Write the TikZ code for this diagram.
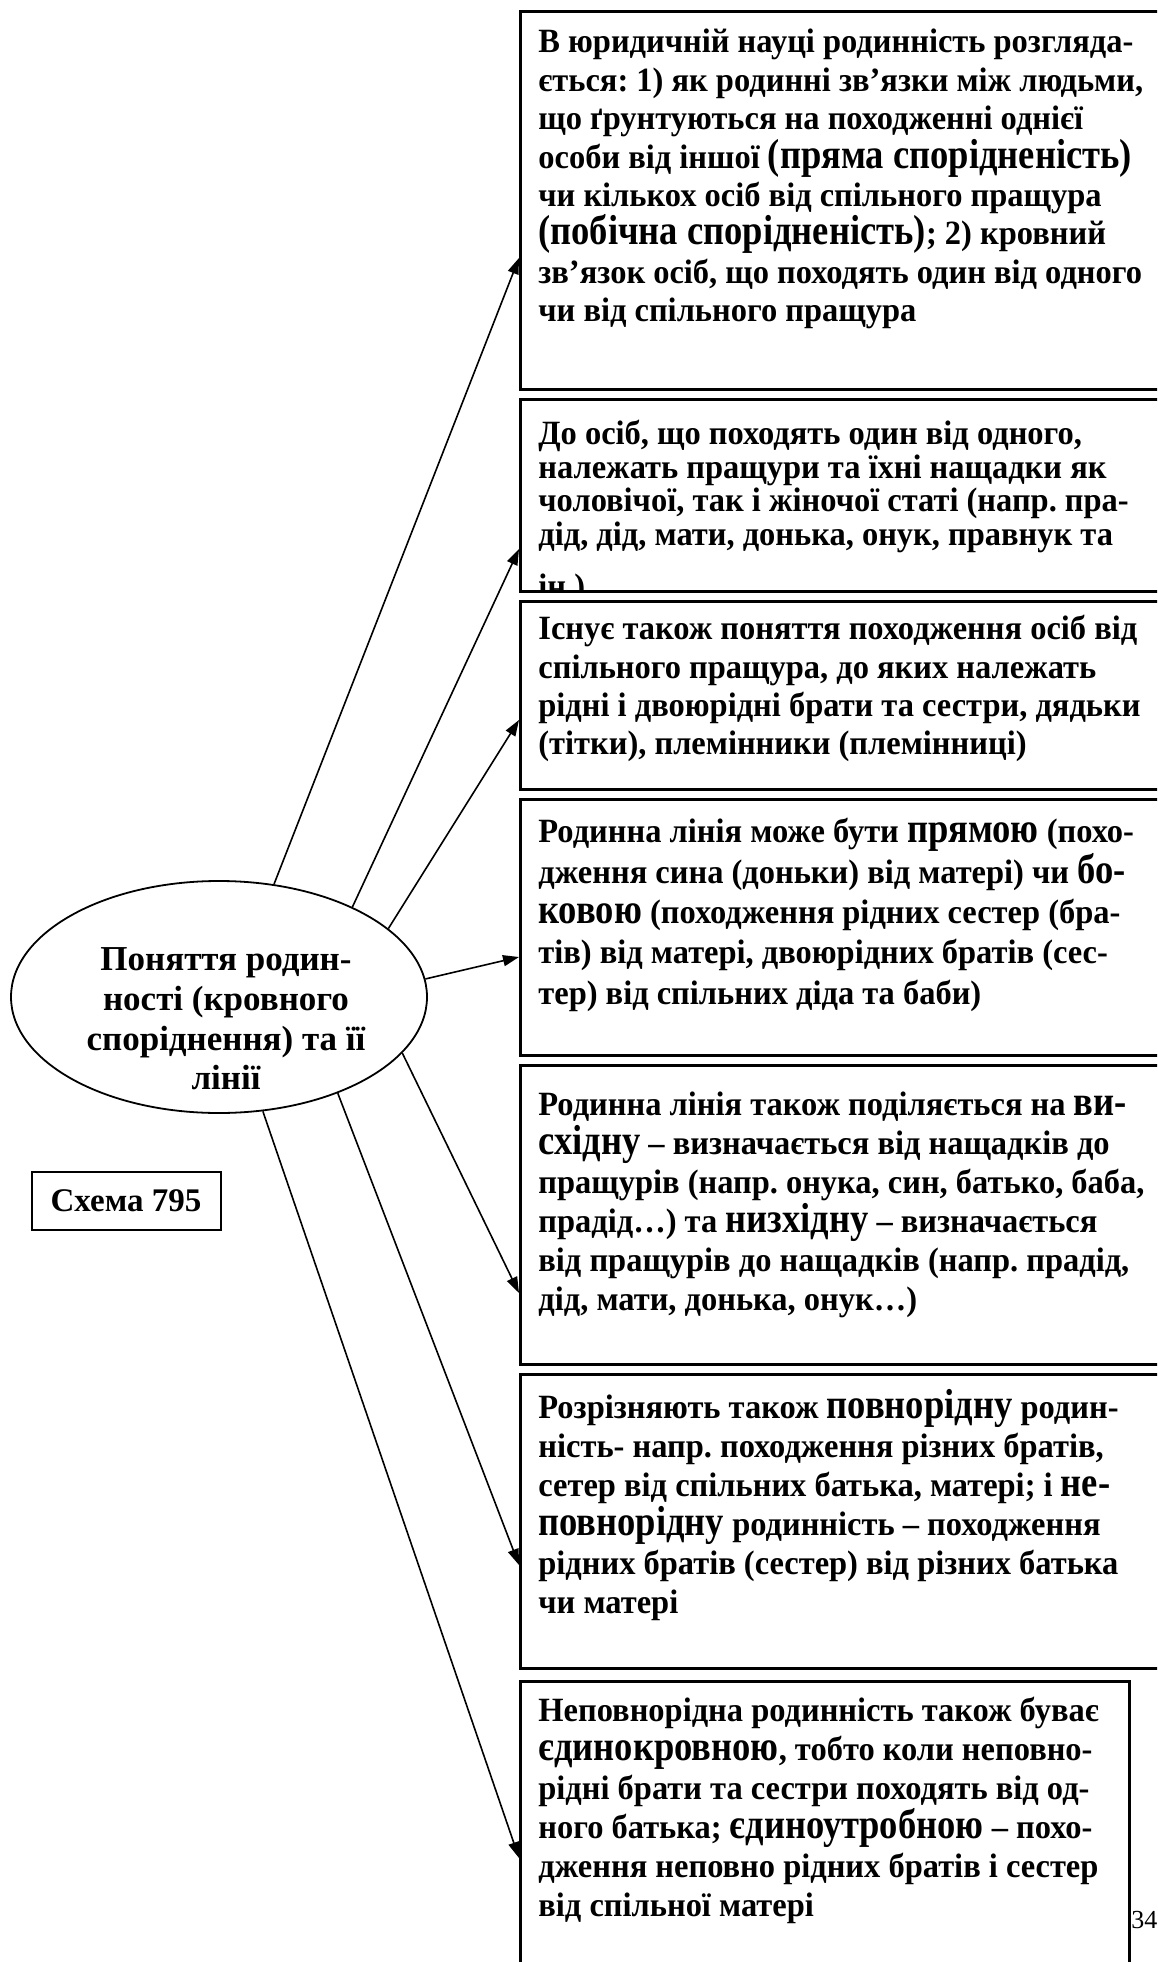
\documentclass[tikz,border=0pt]{standalone}
\usepackage{fontspec}
\setmainfont{Liberation Serif}[FakeStretch=0.955]
\newfontfamily\plainserif{Liberation Serif}
\newfontfamily\bigfont{Liberation Serif}[FakeStretch=0.87]
\frenchspacing
\usetikzlibrary{shapes.geometric,arrows.meta}

% larger words inside the box texts
\newcommand{\bigw}[1]{{\bigfont\fontsize{21}{19.5}\selectfont #1}}

\begin{document}
\begin{tikzpicture}[x=0.5pt, y=-0.5pt, >={Triangle[length=8pt,width=5.5pt]},
  infobox/.style={draw, line width=1.3pt, rectangle, anchor=north west, inner sep=0pt, minimum width=340pt},
  boxtext/.style={anchor=north west, inner sep=0pt, align=left, font=\fontsize{17}{19.5}\selectfont\bfseries},
  link/.style={->, line width=0.8pt}]

\useasboundingbox (0,0) rectangle (1157,1962);
\clip (0,0) rectangle (1157,1962);

% Central ellipse
\node[draw, ellipse, line width=0.9pt, minimum width=208pt, minimum height=116pt, inner sep=0pt] (hub) at (219,997) {};
\node[align=center, inner sep=0pt, font=\plainserif\fontsize{17.5}{19.8}\selectfont\bfseries] (hubtext) at (226,1019)
  {Поняття родин-\\ності (кровного\\споріднення) та її\\лінії};

% Scheme label
\node[draw, line width=1pt, minimum width=94.5pt, minimum height=29pt,
  font=\plainserif\fontsize{16.5}{18}\selectfont\bfseries] (schema) at (126,1201) {Схема 795};

% Boxes (the right edges run past the page)
\node[infobox, minimum height=189pt] (b1) at (519,10) {};
\node[infobox, minimum height=96pt] (b2) at (519,398) {};
\node[infobox, minimum height=94pt] (b3) at (519,600) {};
\node[infobox, minimum height=128pt] (b4) at (519,798) {};
\node[infobox, minimum height=149.5pt] (b5) at (519,1064) {};
\node[infobox, minimum height=147pt] (b6) at (519,1373) {};
\node[infobox, minimum width=304.5pt, minimum height=200pt] (b7) at (519,1680) {};

% Box texts
\node[boxtext, font=\fontsize{17}{19.2}\selectfont\bfseries] (t1) at (538,29) {В юридичній науці родинність розгляда-\\
ється: 1) як родинні зв’язки між людьми,\\
що ґрунтуються на походженні однієї\\
особи від іншої \bigw{(пряма спорідненість)}\\
чи кількох осіб від спільного пращура\\
\bigw{(побічна спорідненість)}; 2) кровний\\
зв'язок осіб, що походять один від одного\\
чи від спільного пращура};

\begin{scope}
\clip (519,398) rectangle (1200,590);
\node[boxtext, font=\fontsize{17}{16.8}\selectfont\bfseries] (t2) at (538,420) {До осіб, що походять один від одного,\\
належать пращури та їхні нащадки як\\
чоловічої, так і жіночої статі (напр. пра-\\
дід, дід, мати, донька, онук, правнук та\\[9pt]
ін.)};
\end{scope}

\node[boxtext, font=\fontsize{17}{19.2}\selectfont\bfseries] (t3) at (538,615) {Існує також поняття походження осіб від\\
спільного пращура, до яких належать\\
рідні і двоюрідні брати та сестри, дядьки\\
(тітки), племінники (племінниці)};

\node[boxtext, font=\fontsize{17}{20.2}\selectfont\bfseries] (t4) at (538,818) {Родинна лінія може бути \bigw{прямою} (похо-\\
дження сина (доньки) від матері) чи \bigw{бо-}\\
\bigw{ковою} (походження рідних сестер (бра-\\
тів) від матері, двоюрідних братів (сес-\\
тер) від спільних діда та баби)};

\node[boxtext] (t5) at (538,1091) {Родинна лінія також поділяється на \bigw{ви-}\\
\bigw{східну} – визначається від нащадків до\\
пращурів (напр. онука, син, батько, баба,\\
прадід…) та \bigw{низхідну} – визначається\\
від пращурів до нащадків (напр. прадід,\\
дід, мати, донька, онук…)};

\node[boxtext] (t6) at (538,1389) {Розрізняють також \bigw{повнорідну} родин-\\
ність- напр. походження різних братів,\\
сетер від спільних батька, матері; і \bigw{не-}\\
\bigw{повнорідну} родинність – походження\\
рідних братів (сестер) від різних батька\\
чи матері};

\node[boxtext] (t7) at (538,1697) {Неповнорідна родинність також буває\\
\bigw{єдинокровною}, тобто коли неповно-\\
рідні брати та сестри походять від од-\\
ного батька; \bigw{єдиноутробною} – похо-\\
дження неповно рідних братів і сестер\\
від спільної матері};

% Page number
\node[anchor=west, inner sep=0pt, font=\plainserif\fontsize{13}{14}\selectfont] (pg) at (1131,1920) {34};

% Arrow ends on the box edges
\coordinate (e1) at (519,258);
\coordinate (e2) at (519,549);
\coordinate (e3) at (519,720);
\coordinate (e4) at (519,957);
\coordinate (e5) at (519,1293);
\coordinate (e6) at (519,1565);
\coordinate (e7) at (519,1858);

% Links
\draw[link] (hub.64) -- (e1);
\draw[link] (hub.34) -- (e2);
\draw[link] (hub.22) -- (e3);
\draw[link] (hub.5) -- (e4);
\draw[link] (hub.-17) -- (e5);
\draw[link] (hub.-39) -- (e6);
\draw[link] (hub.-69) -- (e7);

\end{tikzpicture}
\end{document}
